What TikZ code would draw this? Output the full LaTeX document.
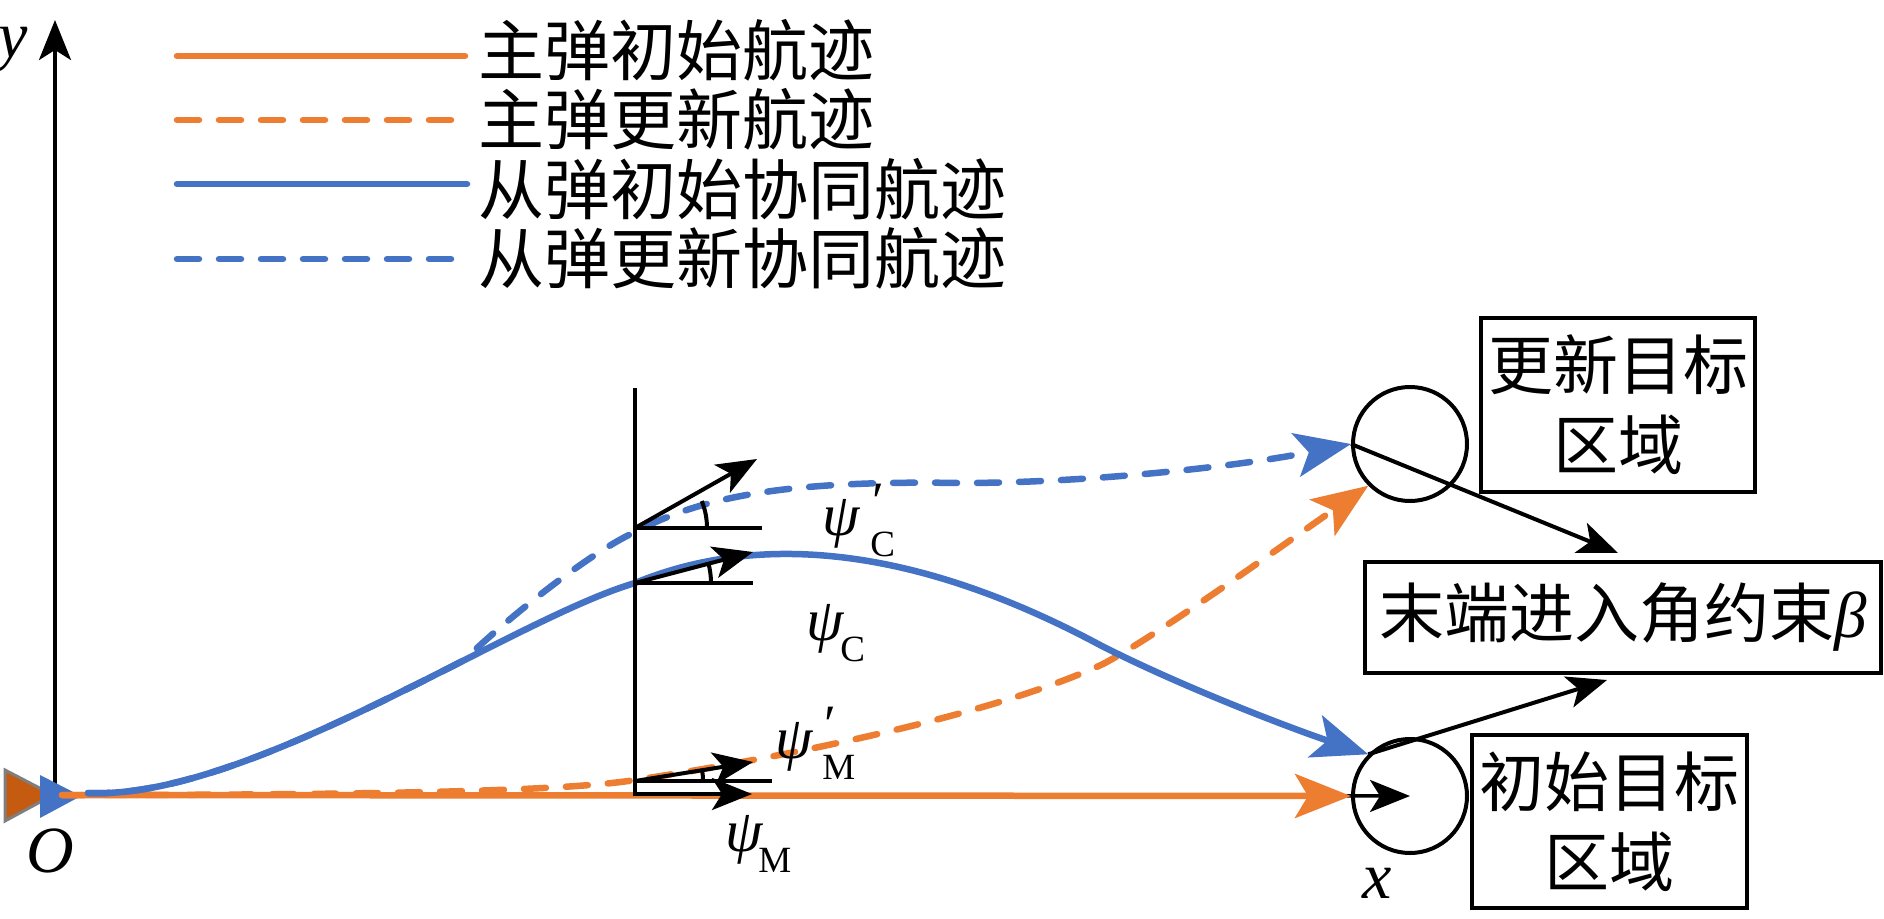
\documentclass[tikz,border=0pt]{standalone}
\usepackage{fontspec}
\setmainfont{Liberation Serif}
\newfontfamily\cjk{Noto Sans CJK SC}
\usetikzlibrary{arrows.meta,calc}
\definecolor{mblue}{HTML}{4472C4}
\definecolor{morange}{HTML}{ED7D31}
\definecolor{mdorange}{HTML}{C55A11}
\definecolor{mgray}{HTML}{7F7F7F}
% #1 gap, #2 subscript
\newcommand{\psip}[2]{{\fontsize{60}{60}\selectfont\itshape ψ}\hspace{#1}\rlap{\hspace{2pt}\raisebox{16pt}{\fontsize{54}{54}\selectfont ′}}\raisebox{-21pt}{\fontsize{37}{37}\selectfont #2}}
\newcommand{\psin}[2]{{\fontsize{60}{60}\selectfont\itshape ψ}\hspace{#1}\raisebox{-21pt}{\fontsize{37}{37}\selectfont #2}}
\begin{document}
\begin{tikzpicture}[x=1pt,y=-1pt,
  traj/.style={line width=6.5pt},
  dsh/.style={dash pattern=on 22pt off 20pt,line cap=round},
  ctip/.style={-{Stealth[length=56pt,width=44pt,inset=13pt]}},
  btip/.style={-{Stealth[length=40pt,width=32pt,inset=10pt]}},
  blk/.style={draw=black,line width=4pt},
  thin/.style={draw=black,line width=3.5pt},
  legtext/.style={anchor=west,inner sep=0pt,font=\cjk\fontsize{66}{66}\selectfont},
  box/.style={draw=black,line width=4pt,align=center,inner sep=0pt,font=\cjk\fontsize{65}{80}\selectfont},
  tgt/.style={circle,draw=black,line width=4pt,minimum size=114pt,inner sep=0pt},
  axlab/.style={inner sep=0pt,anchor=base west,font=\fontsize{66}{66}\selectfont\itshape},
  plab/.style={inner sep=0pt,anchor=base west}
]
\useasboundingbox (0,0) rectangle (1884,918);

% targets and boxes
\node[tgt] (upc) at (1410,444) {};
\node[tgt] (lowc) at (1410,796) {};
\node[box,minimum width=274pt,minimum height=174pt] (bupd) at (1618,405) {更新目标\\区域};
\node[box,minimum width=516pt,minimum height=111pt] (bend) at (1623,617.5) {末端进入角约束{\normalfont\itshape β}};
\node[box,minimum width=275pt,minimum height=173pt] (bini) at (1609.5,821.5) {初始目标\\区域};

% axes
\coordinate (O) at (55,795);
\coordinate (ytip) at (55,20);
\draw[thin,btip] (O) -- (ytip);
\draw[thin,btip] (O) -- (lowc.center);
\node[axlab] (ylab) at (-2,57) {y};
\node[axlab] (olab) at (26,872) {O};
\node[axlab] (xlab) at (1362,898) {x};

% origin markers
\fill[mdorange,draw=mgray,line width=3pt] (5,770) -- (5,821) -- (53,795) -- cycle;
\fill[mblue] (40,775) -- (40,818) -- (81,796) -- cycle;

% trajectories
\coordinate (s1) at (62,795);
\coordinate (s2) at (88,793);
\draw[traj,morange,line cap=round,ctip] (s1) -- (lowc.west);
\draw[traj,morange,dsh,ctip] (s1) .. controls (350,795) and (560,792) .. (635,780)
   .. controls (800,755) and (1000,712) .. (1103,664)
   .. controls (1160,634) and (1290,540) .. (upc.225);
\draw[traj,mblue,dsh,ctip] (s2) .. controls (193.3,797.55) and (340,723.1) .. (464.1,660.25)
   .. controls (500,625) and (585,555) .. (635,532)
   .. controls (700,498) and (780,480) .. (960,483)
   .. controls (1080,483) and (1230,468) .. (upc.west);
\draw[traj,mblue,line cap=round,ctip] (s2) .. controls (250,800) and (510,620) .. (635,583)
   .. controls (720,548) and (870,522) .. (1100,645)
   .. controls (1180,686) and (1290,728) .. (lowc.135);

% angle construction
\coordinate (vtop) at (635,388);
\coordinate (vbot) at (635,794);
\coordinate (psiMtip) at (752,794);
\draw[blk,btip] (vtop) -- (vbot) -- (psiMtip);
\coordinate (pc1) at (635,528);
\coordinate (pc2) at (635,583);
\coordinate (pm1) at (635,781);
\draw[blk] (pc1) -- (762,528);
\draw[blk] (pc2) -- (753,583);
\draw[blk] (pm1) -- (772,781);
\draw[blk,btip] (pc1) -- (757,459);
\draw[blk,btip] (pc2) -- (753,552);
\draw[blk,btip] (pm1) -- (753,762);
\draw[blk] ($(pc1)+(72,0)$) arc[start angle=0,end angle=-22,radius=72];
\draw[blk] ($(pc2)+(76,0)$) arc[start angle=0,end angle=-15,radius=76];
\draw[blk] ($(pm1)+(68,0)$) arc[start angle=0,end angle=-9,radius=68];

\node[plab] (lpc) at (822,535) {\psip{11pt}{C}};
\node[plab] (lc) at (806,640) {\psin{-3pt}{C}};
\node[plab] (lpm) at (775,758) {\psip{10pt}{M}};
\node[plab] (lm) at (725,851) {\psin{-4pt}{M}};

% connectors to constraint box
\coordinate (e1) at (1618,553);
\coordinate (e2) at (1607,680);
\draw[blk,btip] (upc.west) -- (e1);
\draw[blk,btip] (lowc.135) -- (e2);

% legend
\draw[traj,morange,line cap=round] (177,56) -- (465,56);
\draw[traj,morange,dsh] (177,120) -- (456,120);
\draw[traj,mblue,line cap=round] (177,184) -- (467,184);
\draw[traj,mblue,dsh] (177,259) -- (456,259);
\node[legtext] (t1) at (478,50) {主弹初始航迹};
\node[legtext] (t2) at (478,119) {主弹更新航迹};
\node[legtext] (t3) at (478,189) {从弹初始协同航迹};
\node[legtext] (t4) at (478,258) {从弹更新协同航迹};
\end{tikzpicture}
\end{document}
